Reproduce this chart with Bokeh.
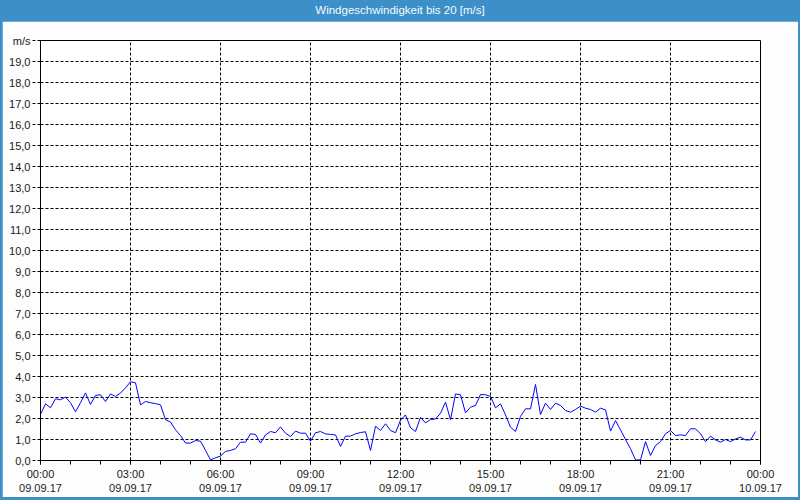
from bokeh.plotting import figure
from bokeh.models import FixedTicker, Range1d, ColumnDataSource, Div, Spacer
from bokeh.layouts import column, row
from bokeh.embed import file_html
from bokeh.resources import INLINE

TITLE = "Windgeschwindigkeit bis 20 [m/s]"

# wind speed [m/s], one value every 10 minutes, 09.09.17 00:00 .. 23:50
speed_00_05 = [2.19, 2.70, 2.51, 2.94, 2.89, 3.02,
               2.75, 2.32, 2.75, 3.22, 2.67, 3.10,
               3.13, 2.81, 3.17, 3.05, 3.21, 3.46,
               3.75, 3.70, 2.65, 2.81, 2.75, 2.71,
               2.65, 1.94, 1.83, 1.46, 1.19, 0.83,
               0.83, 0.95, 0.92, 0.48, 0.03, 0.13]
speed_06_11 = [0.21, 0.43, 0.48, 0.56, 0.87, 0.87,
               1.27, 1.24, 0.83, 1.22, 1.38, 1.32,
               1.60, 1.30, 1.14, 1.40, 1.30, 1.30,
               0.92, 1.32, 1.38, 1.27, 1.24, 1.22,
               0.67, 1.16, 1.16, 1.27, 1.33, 1.37,
               0.48, 1.63, 1.43, 1.75, 1.43, 1.32]
speed_12_17 = [1.92, 2.17, 1.56, 1.38, 2.06, 1.79,
               1.95, 1.98, 2.25, 2.78, 1.94, 3.17,
               3.13, 2.27, 2.54, 2.62, 3.14, 3.13,
               3.05, 2.51, 2.70, 2.17, 1.59, 1.38,
               2.10, 2.46, 2.46, 3.62, 2.19, 2.73,
               2.43, 2.73, 2.62, 2.38, 2.30, 2.43]
speed_18_23 = [2.59, 2.49, 2.43, 2.30, 2.49, 2.41,
               1.40, 1.90, 1.46, 1.00, 0.56, 0.03,
               0.03, 0.90, 0.24, 0.71, 0.90, 1.27,
               1.43, 1.19, 1.22, 1.19, 1.51, 1.51,
               1.27, 0.90, 1.16, 0.98, 0.87, 1.00,
               0.90, 1.03, 1.11, 0.98, 0.98, 1.38]

speed = speed_00_05 + speed_06_11 + speed_12_17 + speed_18_23
hours = [i / 6 for i in range(len(speed))]

x_ticks = [0, 3, 6, 9, 12, 15, 18, 21, 24]
x_tick_labels = ["00:00\n09.09.17", "03:00\n09.09.17", "06:00\n09.09.17",
                 "09:00\n09.09.17", "12:00\n09.09.17", "15:00\n09.09.17",
                 "18:00\n09.09.17", "21:00\n09.09.17", "00:00\n10.09.17"]
y_ticks = list(range(0, 21))
y_tick_labels = ["0,0", "1,0", "2,0", "3,0", "4,0", "5,0", "6,0", "7,0", "8,0",
                 "9,0", "10,0", "11,0", "12,0", "13,0", "14,0", "15,0", "16,0",
                 "17,0", "18,0", "19,0", "m/s"]

BLUE = "#3d8fc7"
FONT = "Liberation Sans"

title_bar = Div(
    text=(f'<div style="width:800px;height:21px;line-height:20px;'
          f'text-align:center;background:{BLUE};color:#f4faff;'
          f'font-family:\'{FONT}\';font-size:11.5px;margin:0;padding:0;">'
          f'{TITLE}</div>'),
    width=800, height=21, margin=0)

p = figure(width=796, height=476, output_backend="svg", toolbar_location=None,
           x_range=Range1d(0, 24), y_range=Range1d(0, 20),
           min_border_left=38, min_border_right=38, min_border_top=19,
           min_border_bottom=37, margin=0)
p.border_fill_color = "#fcfdfc"
p.background_fill_color = "white"
p.outline_line_color = "black"
p.outline_line_width = 1

src = ColumnDataSource(dict(x=hours, y=speed))
p.line("x", "y", source=src, line_color="#0000ff", line_width=1)

# x axis
p.xaxis.ticker = FixedTicker(ticks=x_ticks, minor_ticks=list(range(25)))
p.xaxis.major_label_overrides = {t: l for t, l in zip(x_ticks, x_tick_labels)}
p.xaxis.axis_line_color = "black"
p.xaxis.major_tick_in = 0
p.xaxis.major_tick_out = 4
p.xaxis.minor_tick_in = 0
p.xaxis.minor_tick_out = 4
p.xaxis.major_label_standoff = 3
p.xaxis.major_label_text_font = FONT
p.xaxis.major_label_text_font_size = "11px"
p.xaxis.major_label_text_color = "#1a1a1a"
p.xaxis.major_label_text_line_height = 1.2

# y axis
p.yaxis.ticker = FixedTicker(ticks=y_ticks, minor_ticks=[])
p.yaxis.major_label_overrides = {t: l for t, l in zip(y_ticks, y_tick_labels)}
p.yaxis.axis_line_color = "black"
p.yaxis.major_tick_in = 0
p.yaxis.major_tick_out = 8
p.yaxis.major_tick_line_dash = "3 2"
p.yaxis.minor_tick_line_color = None
p.yaxis.major_label_standoff = 2
p.yaxis.major_label_text_font = FONT
p.yaxis.major_label_text_font_size = "11px"
p.yaxis.major_label_text_color = "#1a1a1a"

# grids
p.xgrid.ticker = FixedTicker(ticks=x_ticks)
p.ygrid.ticker = FixedTicker(ticks=y_ticks)
for g in (p.xgrid, p.ygrid):
    g.grid_line_color = "black"
    g.grid_line_dash = "3 2"
    g.grid_line_width = 1

middle = row(Spacer(width=2, height=476, margin=0), p,
             Spacer(width=2, height=476, margin=0), spacing=0, margin=0)
layout = column(title_bar, middle, spacing=0, margin=0, width=800, height=500,
                styles={"background-color": BLUE})

open("out.html", "w").write(file_html(layout, INLINE))
